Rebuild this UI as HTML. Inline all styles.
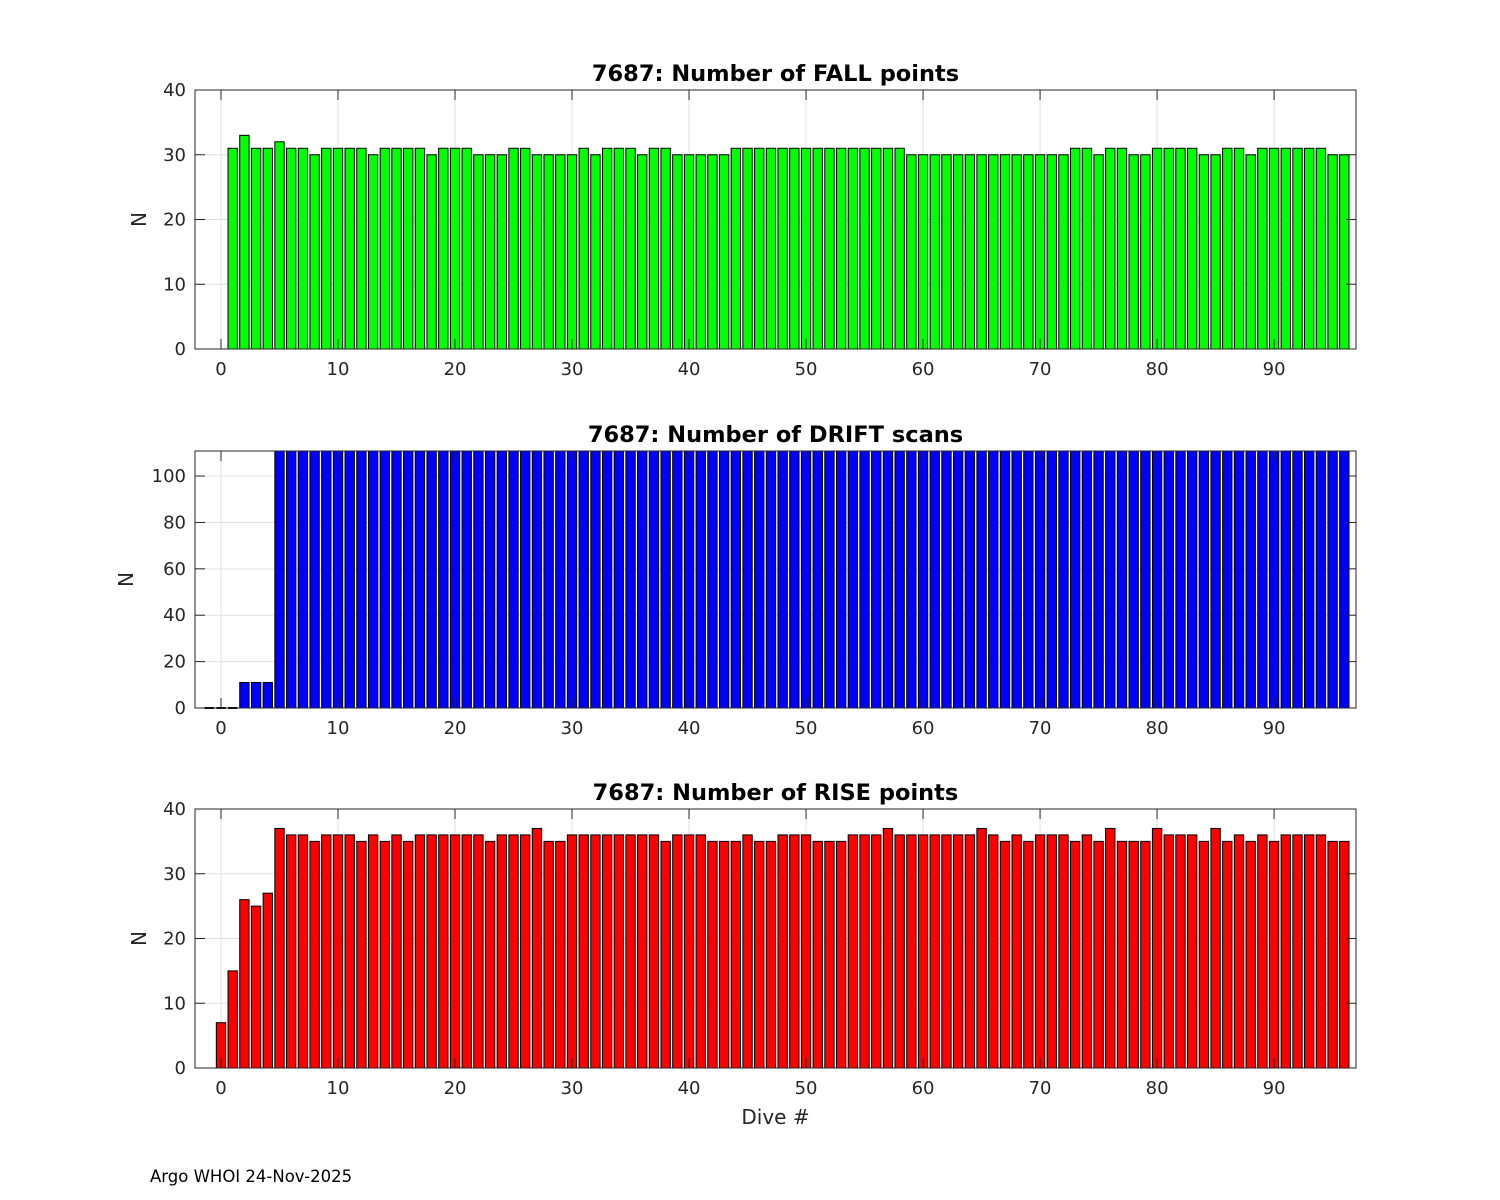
<!DOCTYPE html>
<html><head><meta charset="utf-8"><style>
body{margin:0;background:#fff;}
svg{display:block;font-family:"DejaVu Sans","Liberation Sans",sans-serif;}
</style></head><body>
<svg id="fig" width="1500" height="1200" xmlns="http://www.w3.org/2000/svg">
<rect width="1500" height="1200" fill="#fff"/>
<text x="150" y="1182" font-size="16.5" fill="#000">Argo WHOI 24-Nov-2025</text>
</svg>
<script>
const fallDives = [1,2,3,4,5,6,7,8,9,10,11,12,13,14,15,16,17,18,19,20,21,22,23,24,25,26,27,28,29,30,31,32,33,34,35,36,37,38,39,40,41,42,43,44,45,46,47,48,49,50,51,52,53,54,55,56,57,58,59,60,61,62,63,64,65,66,67,68,69,70,71,72,73,74,75,76,77,78,79,80,81,82,83,84,85,86,87,88,89,90,91,92,93,94,95,96];
const fallValues = [31,33,31,31,32,31,31,30,31,31,31,31,30,31,31,31,31,30,31,31,31,30,30,30,31,31,30,30,30,30,31,30,31,31,31,30,31,31,30,30,30,30,30,31,31,31,31,31,31,31,31,31,31,31,31,31,31,31,30,30,30,30,30,30,30,30,30,30,30,30,30,30,31,31,30,31,31,30,30,31,31,31,31,30,30,31,31,30,31,31,31,31,31,31,30,30];
const driftDives = [-1,0,1,2,3,4,5,6,7,8,9,10,11,12,13,14,15,16,17,18,19,20,21,22,23,24,25,26,27,28,29,30,31,32,33,34,35,36,37,38,39,40,41,42,43,44,45,46,47,48,49,50,51,52,53,54,55,56,57,58,59,60,61,62,63,64,65,66,67,68,69,70,71,72,73,74,75,76,77,78,79,80,81,82,83,84,85,86,87,88,89,90,91,92,93,94,95,96];
const driftValues = [0,0,0,11,11,11,120,120,120,120,120,120,120,120,120,120,120,120,120,120,120,120,120,120,120,120,120,120,120,120,120,120,120,120,120,120,120,120,120,120,120,120,120,120,120,120,120,120,120,120,120,120,120,120,120,120,120,120,120,120,120,120,120,120,120,120,120,120,120,120,120,120,120,120,120,120,120,120,120,120,120,120,120,120,120,120,120,120,120,120,120,120,120,120,120,120,120,120];
const riseDives = [0,1,2,3,4,5,6,7,8,9,10,11,12,13,14,15,16,17,18,19,20,21,22,23,24,25,26,27,28,29,30,31,32,33,34,35,36,37,38,39,40,41,42,43,44,45,46,47,48,49,50,51,52,53,54,55,56,57,58,59,60,61,62,63,64,65,66,67,68,69,70,71,72,73,74,75,76,77,78,79,80,81,82,83,84,85,86,87,88,89,90,91,92,93,94,95,96];
const riseValues = [7,15,26,25,27,37,36,36,35,36,36,36,35,36,35,36,35,36,36,36,36,36,36,35,36,36,36,37,35,35,36,36,36,36,36,36,36,36,35,36,36,36,35,35,35,36,35,35,36,36,36,35,35,35,36,36,36,37,36,36,36,36,36,36,36,37,36,35,36,35,36,36,36,35,36,35,37,35,35,35,37,36,36,36,35,37,35,36,35,36,35,36,36,36,36,35,35];
const xTicks = [0,10,20,30,40,50,60,70,80,90];
const yTicksFall = [0,10,20,30,40];
const yTicksDrift = [0,20,40,60,80,100];
const yTicksRise = [0,10,20,30,40];

const NS="http://www.w3.org/2000/svg";
const svg=document.getElementById('fig');
const L=195,R=1356,XMIN=-2.222,XMAX=97.0;
function xs(v){return L+(v-XMIN)/(XMAX-XMIN)*(R-L);}
function mk(tag,attrs,parent){const e=document.createElementNS(NS,tag);for(const k in attrs)e.setAttribute(k,attrs[k]);(parent||svg).appendChild(e);return e;}

function panel(key,top,bot,ymax,yTicks,dives,vals,color,title,xlabel){
  const g=mk('g',{});
  
  
  const ys=v=>bot-(v/ymax)*(bot-top);
  const bg=mk('rect',{x:L,y:top,width:R-L,height:bot-top,fill:'#fff'},g);
  
  
  xTicks.forEach(t=>{const x=xs(t);
    const gl=mk('line',{x1:x,x2:x,y1:top,y2:bot,stroke:'#e0e0e0','stroke-width':1},g);
    
    });
  yTicks.forEach(t=>{const y=ys(t);
    const gl=mk('line',{x1:L,x2:R,y1:y,y2:y,stroke:'#e0e0e0','stroke-width':1},g);
    
    });
  const cg=mk('g',{},g);
  const cid='clip-'+key;
  const cp=mk('clipPath',{id:cid},g);mk('rect',{x:L-1,y:top,width:R-L+2,height:bot-top+2},cp);
  cg.setAttribute('clip-path','url(#'+cid+')');
  const w=(xs(0.8)-xs(0));
  dives.forEach((d,i)=>{const v=vals[i];const y=ys(v);
    let b;
    if(v<=0){
      b=mk('line',{x1:xs(d)-w/2,x2:xs(d)+w/2,y1:bot,y2:bot,stroke:'#000','stroke-width':2},cg);
    } else {
      b=mk('rect',{x:xs(d)-w/2,y:Math.min(y,bot),width:w,height:Math.max(bot-y,0),fill:color,stroke:'#000','stroke-width':1},cg);
    }
    
    });
  xTicks.forEach(t=>{const x=xs(t);
    mk('line',{x1:x,x2:x,y1:bot,y2:bot-10,stroke:'#262626'},g);
    mk('line',{x1:x,x2:x,y1:top,y2:top+10,stroke:'#262626'},g);
    const tl=mk('text',{x:x,y:bot+26,'font-size':18,'text-anchor':'middle',fill:'#262626'},g);
    tl.textContent=t;
    
    });
  yTicks.forEach(t=>{const y=ys(t);
    mk('line',{x1:L,x2:L+10,y1:y,y2:y,stroke:'#262626'},g);
    mk('line',{x1:R,x2:R-10,y1:y,y2:y,stroke:'#262626'},g);
    const tl=mk('text',{x:L-9,y:y+6,'font-size':18,'text-anchor':'end',fill:'#262626'},g);
    tl.textContent=t;
    
    });
  const fr=mk('rect',{x:L,y:top,width:R-L,height:bot-top,fill:'none',stroke:'#262626','stroke-width':1},g);
  
  
  const tt=mk('text',{x:(L+R)/2,y:top-9,'font-size':22.5,'font-weight':'bold','text-anchor':'middle',fill:'#000'},g);
  tt.textContent=title;
  
  
  const yl=mk('text',{x:0,y:0,'font-size':20,'text-anchor':'middle',fill:'#262626',transform:`translate(${key==='drift'?133:146},${(top+bot)/2}) rotate(-90)`},g);
  yl.textContent='N';
  
  
  if(xlabel){const xl=mk('text',{x:(L+R)/2,y:bot+56,'font-size':20,'text-anchor':'middle',fill:'#262626'},g);
    xl.textContent=xlabel;
    
    }
}
panel('fall',90,349,40,yTicksFall,fallDives,fallValues,'#00ff00','7687: Number of FALL points',null);
panel('drift',451,708,110.8,yTicksDrift,driftDives,driftValues,'#0000ff','7687: Number of DRIFT scans',null);
panel('rise',809,1068,40,yTicksRise,riseDives,riseValues,'#ff0000','7687: Number of RISE points','Dive #');
</script>
</body></html>
